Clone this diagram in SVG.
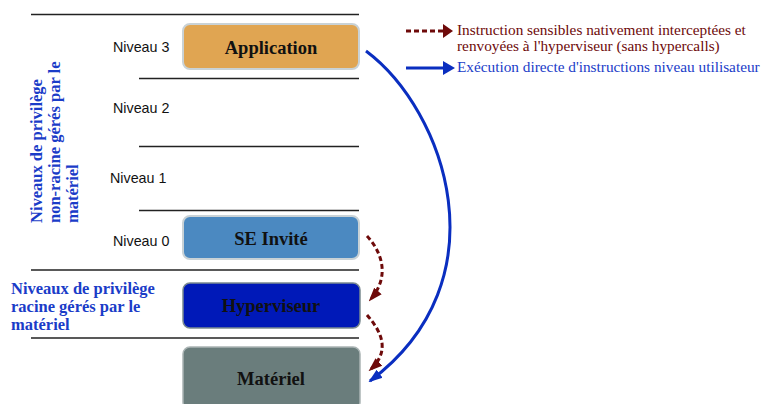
<svg xmlns="http://www.w3.org/2000/svg" width="763" height="404" viewBox="0 0 763 404">
<style>
.lvl{font-family:"Liberation Sans",Arial,sans-serif;font-size:14.3px;fill:#111}
.node{font-family:"Liberation Serif","Times New Roman",serif;font-size:18.5px;font-weight:bold;fill:#111;text-anchor:middle}
.side{font-family:"Liberation Serif","Times New Roman",serif;font-size:16.5px;font-weight:bold;fill:#1a3cc8}
.leg{font-family:"Liberation Serif","Times New Roman",serif;font-size:15.3px}
.sep{stroke:#222;stroke-width:1.3}
.box{stroke:#c9d2d6;stroke-width:2}
.dash{fill:none;stroke:#6e0a0a;stroke-width:3;stroke-dasharray:5 3}
.solid{fill:none;stroke:#0a2ec0;stroke-width:3}
</style>
<defs>
<marker id="mr2" markerWidth="14" markerHeight="14" refX="12" refY="7" orient="auto" markerUnits="userSpaceOnUse" viewBox="0 0 14 14"><path d="M0,2 L14,7 L0,12 z" fill="#6e0a0a"/></marker>
<marker id="mb2" markerWidth="14" markerHeight="14" refX="12" refY="7" orient="auto" markerUnits="userSpaceOnUse" viewBox="0 0 14 14"><path d="M0,2 L14,7 L0,12 z" fill="#0a2ec0"/></marker>
</defs>
<rect width="763" height="404" fill="#fff"/>
<g id="separators">
<line class="sep" x1="31" y1="14.5" x2="359" y2="14.5"/>
<line class="sep" x1="139" y1="78.5" x2="359" y2="78.5"/>
<line class="sep" x1="139" y1="146.5" x2="359" y2="146.5"/>
<line class="sep" x1="139" y1="210.5" x2="359" y2="210.5"/>
<line class="sep" x1="31" y1="270" x2="359" y2="270" stroke-width="1.8"/>
<line class="sep" x1="31" y1="338" x2="359" y2="338" stroke-width="1.8"/>
</g>
<g id="levels">
<text class="lvl" x="113" y="52">Niveau 3</text>
<text class="lvl" x="113" y="113">Niveau 2</text>
<text class="lvl" x="110" y="183">Niveau 1</text>
<text class="lvl" x="113" y="246">Niveau 0</text>
</g>
<g id="application">
<rect class="box" x="183" y="24" width="176" height="45" rx="7" fill="#e0a552"/>
<text class="node" x="271" y="54">Application</text>
</g>
<g id="se-invite">
<rect class="box" x="183" y="216" width="176" height="43" rx="7" fill="#4b89c1"/>
<text class="node" x="271" y="245">SE Invité</text>
</g>
<g id="hyperviseur">
<rect x="183" y="283" width="177" height="45" rx="7" fill="#0019b8" stroke="#7a8a90" stroke-width="1.5"/>
<text class="node" x="271" y="312">Hyperviseur</text>
</g>
<g id="materiel">
<rect x="183" y="347" width="177" height="62" rx="7" fill="#6a7d7c" stroke="#aab4b4" stroke-width="1.5"/>
<text class="node" x="271" y="385">Matériel</text>
</g>
<g id="side-labels">
<g transform="translate(42,223) rotate(-90)">
<text class="side" x="0" y="0">Niveaux de privilège</text>
<text class="side" x="0" y="18">non-racine gérés par le</text>
<text class="side" x="0" y="36">matériel</text>
</g>
<text class="side" x="11" y="294">Niveaux de privilège</text>
<text class="side" x="11" y="312">racine gérés par le</text>
<text class="side" x="11" y="330">matériel</text>
</g>
<g id="legend">
<line x1="406" y1="31" x2="444" y2="31" class="dash" stroke-dasharray="4 2.5"/>
<path d="M443,24 L453,31 L443,38 z" fill="#6e0a0a"/>
<line x1="406" y1="68" x2="444" y2="68" class="solid"/>
<path d="M443,61 L455,68 L443,75 z" fill="#0a2ec0"/>
<text class="leg" x="457" y="35" fill="#6e0a0a">Instruction sensibles nativement interceptées et</text>
<text class="leg" x="457" y="51" fill="#6e0a0a">renvoyées à l'hyperviseur (sans hypercalls)</text>
<text class="leg" x="457" y="72" fill="#1a3cc8">Exécution directe d'instructions niveau utilisateur</text>
</g>
<g id="connectors">
<path class="solid" d="M366,51 C445,110 505,280 370,381" marker-end="url(#mb2)"/>
<path class="dash" d="M367,236 C380,250 392,275 370,300" marker-end="url(#mr2)"/>
<path class="dash" d="M367,315 C380,330 392,350 370,370" marker-end="url(#mr2)"/>
</g>
</svg>
